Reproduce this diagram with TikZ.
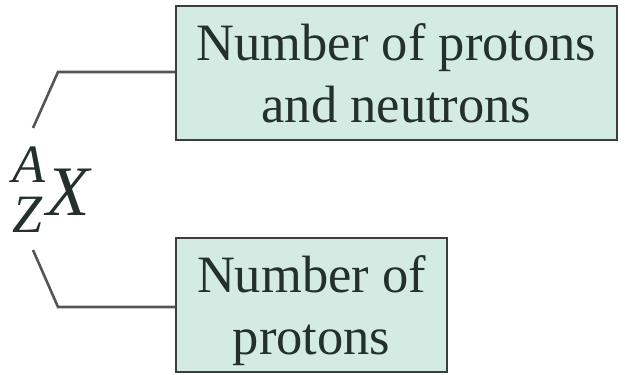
\documentclass[tikz,border=0pt]{standalone}
\usepackage{fontspec}
\setmainfont{Liberation Serif}
\definecolor{boxfill}{HTML}{D4EBE3}
\definecolor{boxline}{HTML}{3A3F3D}
\definecolor{txt}{HTML}{24302C}
\definecolor{conn}{HTML}{555555}
\begin{document}
\begin{tikzpicture}[x=1pt,y=-1pt,
  infobox/.style={draw=boxline, line width=2pt, fill=boxfill, text=txt,
    align=center, inner sep=0pt, text depth=0pt,
    font=\fontsize{52.5}{62}\selectfont},
  connline/.style={draw=conn, line width=2.6pt},
  sym/.style={text=txt, inner sep=0pt, anchor=base west}]
\useasboundingbox (0,0) rectangle (625,375);
\node[infobox, minimum width=441pt, minimum height=134pt] (top) at (396.5,73) {Number of protons\\and neutrons};
\node[infobox, minimum width=271pt, minimum height=134pt] (bot) at (311.5,305) {Number of\\protons};
\node[sym, font=\fontsize{54}{54}\selectfont\itshape] (A) at (12,182) {A};
\node[sym, font=\fontsize{54}{54}\selectfont\itshape] (Z) at (12,232) {Z};
\node[sym, font=\fontsize{71}{71}\selectfont\itshape] (X) at (46,215) {X};
\coordinate (ct) at (33,128);
\coordinate (kt) at (58,72);
\coordinate (cb) at (33,250);
\coordinate (kb) at (58,307);
\draw[connline] (ct) -- (kt) -- (kt -| top.west);
\draw[connline] (cb) -- (kb) -- (kb -| bot.west);
\end{tikzpicture}
\end{document}
